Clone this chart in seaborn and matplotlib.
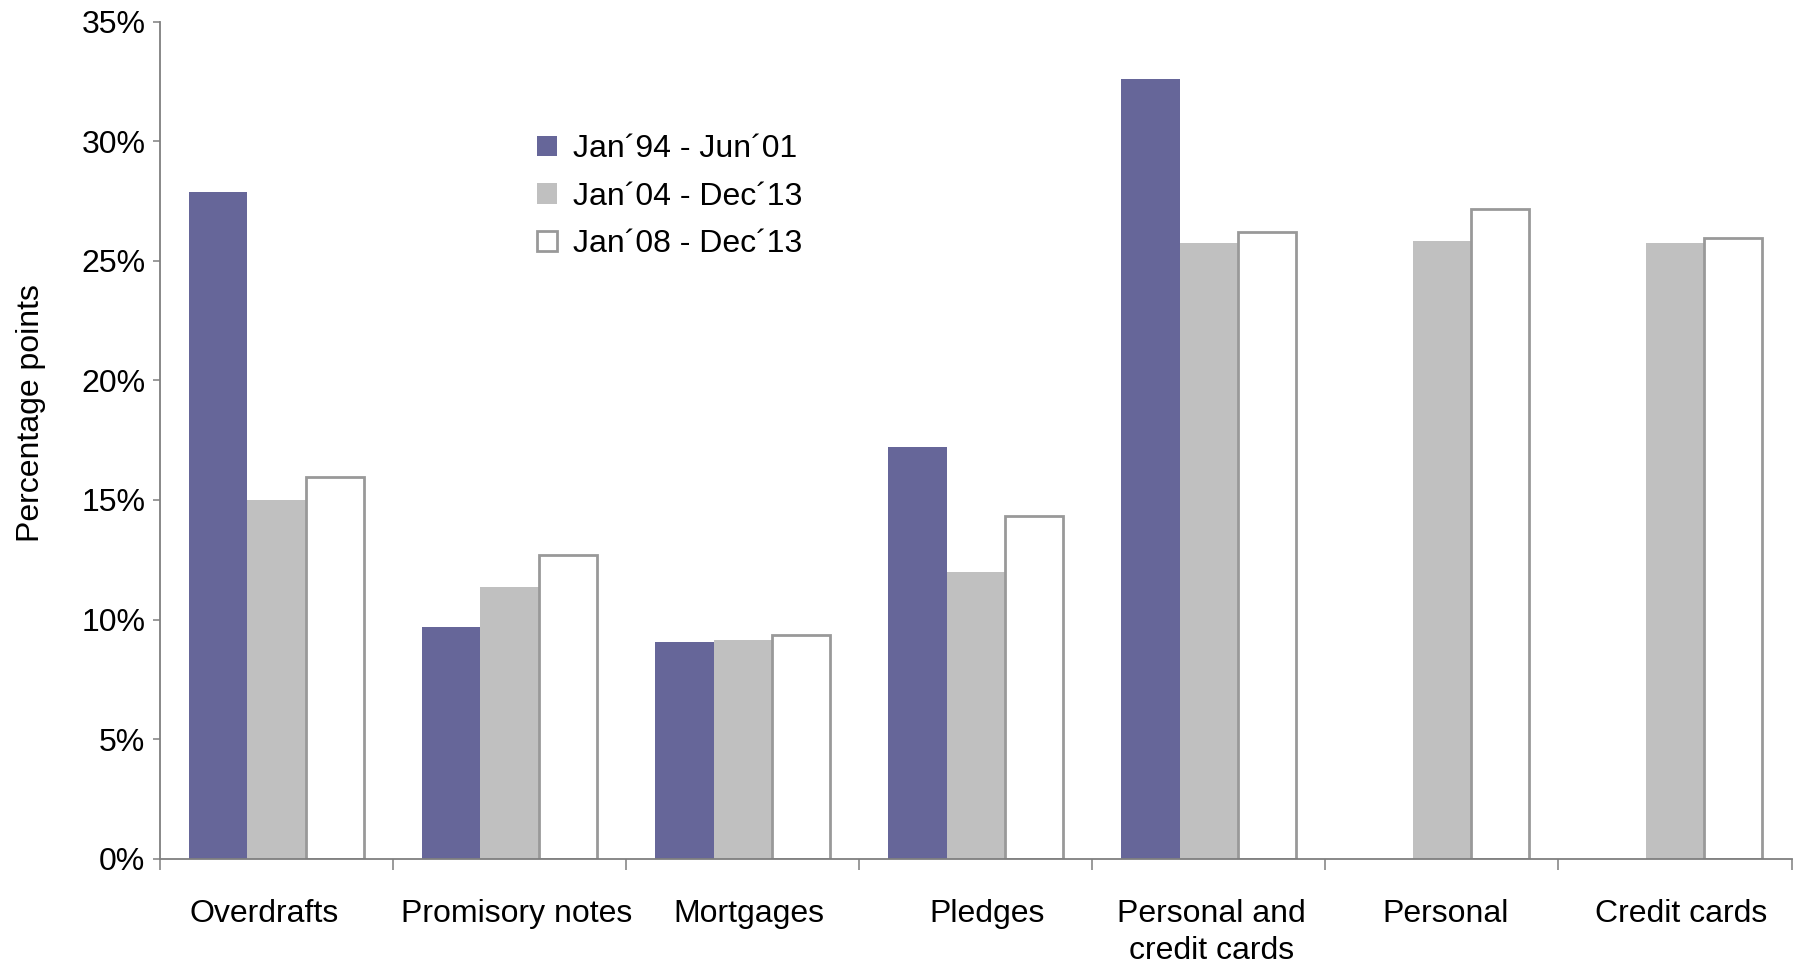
import numpy as np
import pandas as pd
import matplotlib
matplotlib.use("Agg")
import matplotlib.pyplot as plt
from matplotlib.patches import Patch
from matplotlib.ticker import FuncFormatter, FixedLocator
import seaborn as sns

# Loan categories and the three estimation periods (values in %)
categories = ["Overdrafts", "Promisory notes", "Mortgages", "Pledges",
              "Personal and\ncredit cards", "Personal", "Credit cards"]
periods = ["Jan\u00b494 - Jun\u00b401", "Jan\u00b404 - Dec\u00b413", "Jan\u00b408 - Dec\u00b413"]
jan94_jun01 = [27.9, 9.7, 9.05, 17.2, 32.6, np.nan, np.nan]
jan04_dec13 = [15.0, 11.35, 9.15, 12.0, 25.75, 25.85, 25.75]
jan08_dec13 = [15.95, 12.7, 9.35, 14.33, 26.2, 27.15, 25.95]
yticks = [0, 5, 10, 15, 20, 25, 30, 35]

purple = "#666699"
grey = "#c0c0c0"
edge = "#999999"
axis_col = "#7f7f7f"

df = pd.DataFrame({
    "category": categories * 3,
    "period": np.repeat(periods, len(categories)),
    "value": jan94_jun01 + jan04_dec13 + jan08_dec13,
})

sns.set_theme(style="white")
plt.rcParams["font.family"] = ["Liberation Sans", "DejaVu Sans"]
plt.rcParams["text.color"] = "black"
plt.rcParams["axes.labelcolor"] = "black"
plt.rcParams["xtick.labelcolor"] = "black"
plt.rcParams["ytick.labelcolor"] = "black"

fs = 23

fig = plt.figure(figsize=(17.95, 9.68), dpi=100)
ax = fig.add_axes([0.0891, 0.113, 0.909, 0.8645])

sns.barplot(data=df, x="category", y="value", hue="period",
            order=categories, hue_order=periods,
            palette=[purple, grey, "white"], saturation=1,
            width=0.75, errorbar=None, legend=False, ax=ax)

# Outline the hollow series
for bar in ax.containers[2]:
    bar.set_edgecolor(edge)
    bar.set_linewidth(2.0)
for c in ax.containers[:2]:
    for bar in c:
        bar.set_linewidth(0)

ax.set_ylim(0, 35)
ax.set_xlim(-0.5, len(categories) - 0.5)
ax.set_yticks(yticks)
ax.yaxis.set_major_formatter(FuncFormatter(lambda v, p: f"{v:.0f}%"))
ax.tick_params(axis="y", which="major", direction="out", length=5,
               width=1.1, color=axis_col, pad=5.5, labelsize=fs,
               left=True)

# Ticks between groups, labels under group centres (slightly nudged)
label_nudge = [-0.054, 0.03, 0.025, 0.05, 0.01, 0.015, 0.025]
ax.xaxis.set_major_locator(FixedLocator(np.arange(-0.5, len(categories), 1.0)))
ax.xaxis.set_minor_locator(FixedLocator(np.arange(len(categories)) + np.array(label_nudge)))
ax.set_xticklabels([""] * (len(categories) + 1))
ax.set_xticklabels(categories, minor=True, linespacing=1.32)
ax.tick_params(axis="x", which="major", direction="out", length=8,
               width=1.1, color=axis_col, bottom=True)
ax.tick_params(axis="x", which="minor", length=0, pad=29, labelsize=fs)

for side in ["top", "right"]:
    ax.spines[side].set_visible(False)
for side in ["left", "bottom"]:
    ax.spines[side].set_color(axis_col)
    ax.spines[side].set_linewidth(1.3)

ax.set_xlabel("")
ax.set_ylabel("Percentage points", fontsize=fs)
ax.yaxis.set_label_coords(-0.070, 0.532)

handles = [Patch(facecolor=purple, edgecolor="none"),
           Patch(facecolor=grey, edgecolor="none"),
           Patch(facecolor="white", edgecolor=edge, linewidth=2.0)]
ax.legend(handles, periods, loc="upper left",
          bbox_to_anchor=(0.2905, 0.878), bbox_transform=fig.transFigure,
          frameon=False, fontsize=fs, handlelength=0.6, handleheight=0.6,
          handletextpad=0.5, labelspacing=0.55, borderpad=0)

fig.savefig("out.png", dpi=100)
